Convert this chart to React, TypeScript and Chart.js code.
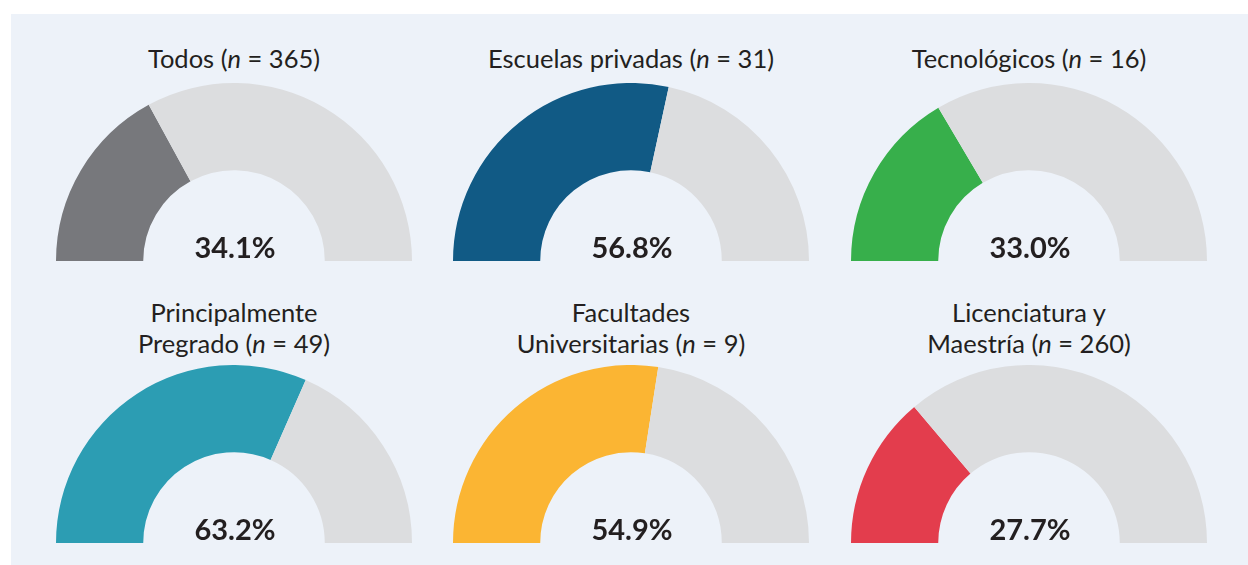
import React, { useEffect, useRef } from 'react';
import { Chart, registerables } from 'chart.js';

Chart.register(...registerables);

// ---- Data ----
const categories: string[] = [
  'Todos',
  'Escuelas privadas',
  'Tecnológicos',
  'Principalmente Pregrado',
  'Facultades Universitarias',
  'Licenciatura y Maestría',
];
const titleLines: string[][] = [
  ['Todos'],
  ['Escuelas privadas'],
  ['Tecnológicos'],
  ['Principalmente', 'Pregrado'],
  ['Facultades', 'Universitarias'],
  ['Licenciatura y', 'Maestría'],
];
const sampleSizes: number[] = [365, 31, 16, 49, 9, 260];
const percentages: number[] = [34.1, 56.8, 33.0, 63.2, 54.9, 27.7];
const fillColors: string[] = ['#77787C', '#115A85', '#37AF4B', '#2C9DB3', '#FBB533', '#E33D4D'];
const remainderColor = '#DCDDDF';

// ---- Styles / layout ----
const PANEL_BG = '#EDF2F9';
const TEXT = '#231F20';
const R = 178;
const colCenters = [234, 631, 1029];
const rowBottoms = [261, 543];
const titleLastBaselines = [68, 353];
const TITLE_SIZE = 25.5;
const LINE_H = 30.5;

const centerTextPlugin = {
  id: 'centerText',
  afterDraw(chart: any) {
    const meta = chart.getDatasetMeta(0);
    const arc = meta.data[0];
    if (!arc) return;
    const ctx = chart.ctx;
    const value = chart.data.datasets[0].data[0] as number;
    ctx.save();
    ctx.font = 'bold 29px Lato, sans-serif';
    ctx.fillStyle = TEXT;
    ctx.textAlign = 'center';
    ctx.textBaseline = 'alphabetic';
    ctx.fillText(value.toFixed(1) + '%', arc.x + 1, arc.y - 3);
    ctx.restore();
  },
};

function Gauge({ index }: { index: number }) {
  const ref = useRef<HTMLCanvasElement>(null);
  useEffect(() => {
    if (!ref.current) return;
    const value = percentages[index];
    const chart = new Chart(ref.current, {
      type: 'doughnut',
      data: {
        labels: [categories[index], 'Resto'],
        datasets: [
          {
            data: [value, 100 - value],
            backgroundColor: [fillColors[index], remainderColor],
            borderWidth: 0,
            hoverOffset: 0,
          },
        ],
      },
      options: {
        responsive: false,
        animation: false,
        devicePixelRatio: 1,
        rotation: -90,
        circumference: 180,
        cutout: '51%',
        layout: { padding: 0 },
        events: [],
        plugins: { legend: { display: false }, tooltip: { enabled: false } },
      },
      plugins: [centerTextPlugin],
    } as any);
    return () => chart.destroy();
  }, [index]);
  const col = index % 3;
  const row = Math.floor(index / 3);
  return (
    <canvas
      ref={ref}
      width={2 * R}
      height={R}
      style={{
        position: 'absolute',
        left: colCenters[col] - R,
        top: rowBottoms[row] - R,
        width: 2 * R,
        height: R,
      }}
    />
  );
}

function Title({ index }: { index: number }) {
  const col = index % 3;
  const row = Math.floor(index / 3);
  const lines = titleLines[index];
  const baselineOffset = (LINE_H - 1.2 * TITLE_SIZE) / 2 + 0.987 * TITLE_SIZE;
  const top = titleLastBaselines[row] - (lines.length - 1) * LINE_H - baselineOffset;
  return (
    <div
      style={{
        position: 'absolute',
        left: colCenters[col] - 200,
        width: 400,
        top,
        textAlign: 'center',
        fontFamily: 'Lato, sans-serif',
        fontSize: TITLE_SIZE,
        lineHeight: LINE_H + 'px',
        color: TEXT,
        whiteSpace: 'nowrap',
      }}
    >
      {lines.map((l, i) => (
        <div key={i}>
          {l}
          {i === lines.length - 1 && (
            <>
              {' ('}
              <i>n</i>
              {' = ' + sampleSizes[index] + ')'}
            </>
          )}
        </div>
      ))}
    </div>
  );
}

export default function App() {
  return (
    <div
      style={{
        position: 'absolute',
        left: 0,
        top: 0,
        width: 1248,
        height: 565,
        background: '#FFFFFF',
        overflow: 'hidden',
      }}
    >
      <div
        style={{
          position: 'absolute',
          left: 11,
          top: 14,
          width: 1237,
          height: 551,
          background: PANEL_BG,
        }}
      >
        <div style={{ position: 'absolute', left: -11, top: -14, width: 1248, height: 565 }}>
          {categories.map((_, i) => (
            <Title key={'t' + i} index={i} />
          ))}
          {categories.map((_, i) => (
            <Gauge key={'g' + i} index={i} />
          ))}
        </div>
      </div>
    </div>
  );
}
